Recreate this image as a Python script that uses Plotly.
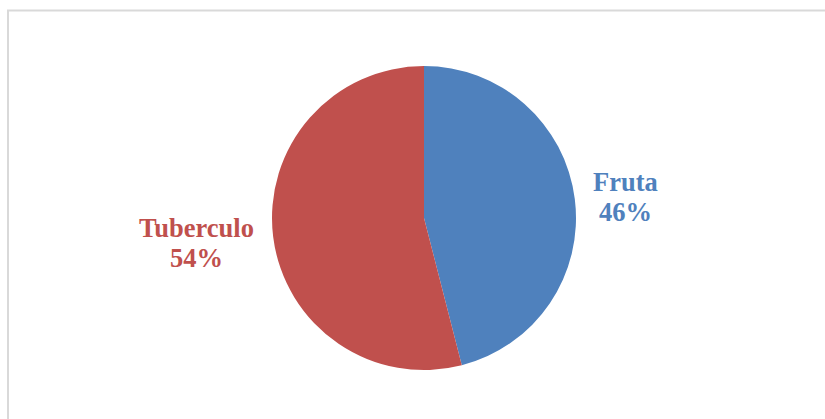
import plotly.graph_objects as go

categories = ["Fruta", "Tuberculo"]
values = [46, 54]
colors = ["#4F81BD", "#C0504D"]

W, H = 825, 419
cx, cy, r = 424, 218, 152

fig = go.Figure(go.Pie(
    labels=categories,
    values=values,
    sort=False,
    direction="clockwise",
    rotation=0,
    textinfo="none",
    hoverinfo="label+percent",
    marker=dict(colors=colors, line=dict(width=0)),
    domain=dict(x=[(cx - r) / W, (cx + r) / W], y=[(H - cy - r) / H, (H - cy + r) / H]),
    showlegend=False,
))

total = sum(values)
# label centre x, y of first and second line (pixels)
label_pos = {"Fruta": (625, 182, 212), "Tuberculo": (196, 228, 258)}
font_family = "Liberation Serif, Times New Roman, serif"
for cat, val, col in zip(categories, values, colors):
    px, y1, y2 = label_pos[cat]
    for txt, py in ((cat, y1), (f"{round(val / total * 100)}%", y2)):
        fig.add_annotation(
            x=px / W, y=1 - py / H, xref="paper", yref="paper",
            xanchor="center", yanchor="middle",
            text=f"<b>{txt}</b>",
            showarrow=False, align="center",
            font=dict(family=font_family, size=26.5, color=col),
        )

fig.add_shape(type="rect", xref="paper", yref="paper",
              x0=8 / W, x1=1.02, y0=-0.05, y1=1 - 10.5 / H,
              line=dict(color="#D9D9D9", width=2))

fig.update_layout(
    width=W, height=H,
    margin=dict(l=0, r=0, t=0, b=0),
    paper_bgcolor="white", plot_bgcolor="white",
)

fig.write_html(
    "out.html",
    config={"displayModeBar": False},
    post_script="document.body.style.margin='0';document.body.style.overflow='hidden';",
)
